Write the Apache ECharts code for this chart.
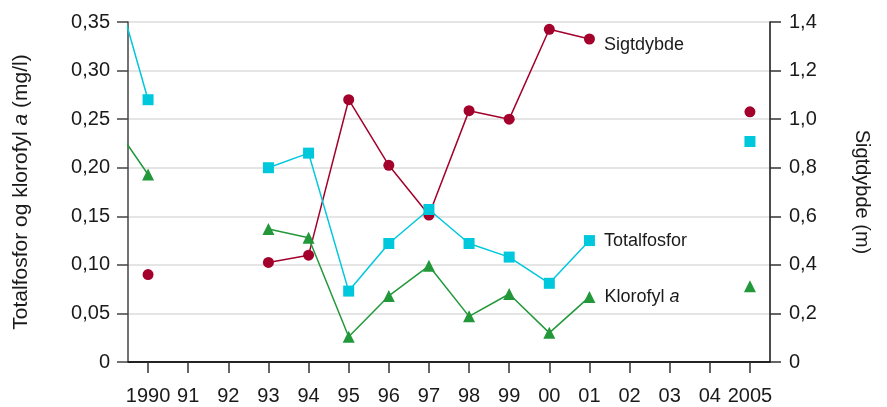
<!DOCTYPE html>
<html>
<head>
<meta charset="utf-8">
<script src="https://cdn.jsdelivr.net/npm/echarts@6/dist/echarts.min.js"></script>
<style>
  html, body { margin: 0; padding: 0; background: #fff; }
  #chartContainer { width: 887px; height: 407px; }
</style>
</head>
<body>
<div id="chartContainer"></div>
<script>
// år (1989 ligger utenfor aksen, men linjen kommer inn fra venstre)
var years = [1989, 1990, 1991, 1992, 1993, 1994, 1995, 1996, 1997, 1998, 1999, 2000, 2001, 2002, 2003, 2004, 2005];
var totalfosfor = [0.415, 0.270, null, null, 0.200, 0.215, 0.073, 0.122, 0.157, 0.122, 0.108, 0.081, 0.125, null, null, null, 0.227];
var klorofyl = [0.253, 0.193, null, null, 0.137, 0.128, 0.026, 0.068, 0.099, 0.047, 0.070, 0.030, 0.067, null, null, null, 0.078];
var sigtdybde = [null, 0.36, null, null, 0.41, 0.44, 1.08, 0.81, 0.605, 1.035, 1.0, 1.37, 1.33, null, null, null, 1.03];

var xTickYears = [1990, 1991, 1992, 1993, 1994, 1995, 1996, 1997, 1998, 1999, 2000, 2001, 2002, 2003, 2004, 2005];
var xTickLabels = ['1990', '91', '92', '93', '94', '95', '96', '97', '98', '99', '00', '01', '02', '03', '04', '2005'];
var leftTickLabels = ['0', '0,05', '0,10', '0,15', '0,20', '0,25', '0,30', '0,35'];
var rightTickLabels = ['0', '0,2', '0,4', '0,6', '0,8', '1,0', '1,2', '1,4'];

var labelYear = 2001;

var FONT = 'Liberation Sans';
var TXT = '#1a1a1a';

function pairs(arr) {
    var out = [];
    for (var i = 0; i < years.length; i++) {
        out.push([years[i], arr[i]]);
    }
    return out;
}

function withLabel(arr, text, offset) {
    var d = pairs(arr);
    for (var i = 0; i < d.length; i++) {
        if (d[i][0] === labelYear) {
            d[i] = {
                value: d[i],
                label: {
                    show: true, position: 'right', distance: 9, offset: offset || [0, 0],
                    formatter: text, color: TXT, fontSize: 18, fontFamily: FONT,
                    rich: {
                        n: { fontSize: 18, fontFamily: FONT, color: TXT },
                        i: { fontSize: 18, fontFamily: FONT, color: TXT, fontStyle: 'italic' }
                    }
                }
            };
        }
    }
    return d;
}

var myChar = echarts.init(document.getElementById('chartContainer'), null, { renderer: 'canvas' });

var options = {
    animation: false,
    backgroundColor: '#fff',
    grid: { left: 128, right: 117, top: 22, bottom: 45, containLabel: false },
    xAxis: [
        {
            type: 'value', min: 1989.5, max: 2005.5, position: 'bottom',
            axisLine: { show: true, lineStyle: { color: '#333', width: 1.5 } },
            axisTick: { show: true, customValues: xTickYears, length: 11, lineStyle: { color: '#333', width: 1.5 } },
            axisLabel: {
                customValues: xTickYears, margin: 24, fontSize: 20, fontFamily: FONT, color: TXT,
                formatter: function (v) {
                    var k = xTickYears.indexOf(Math.round(v));
                    return k >= 0 ? xTickLabels[k] : '';
                }
            },
            splitLine: { show: false }
        },
        {
            type: 'value', min: 1989.5, max: 2005.5, position: 'top',
            axisLine: { show: true, lineStyle: { color: '#111', width: 1.5 } },
            axisTick: { show: false }, axisLabel: { show: false }, splitLine: { show: false }
        }
    ],
    yAxis: [
        {
            type: 'value', min: 0, max: 0.35, interval: 0.05, position: 'left',
            name: '{n|Totalfosfor og klorofyl }{i|a}{n| (mg/l)}',
            nameLocation: 'middle', nameGap: 96, nameRotate: 90,
            nameTextStyle: {
                rich: {
                    n: { fontSize: 21, fontFamily: FONT, color: TXT },
                    i: { fontSize: 21, fontFamily: FONT, color: TXT, fontStyle: 'italic' }
                }
            },
            axisLine: { show: true, lineStyle: { color: '#444', width: 1.5 } },
            axisTick: { show: true, length: 11, lineStyle: { color: '#444', width: 1.5 } },
            axisLabel: {
                margin: 18, fontSize: 20, fontFamily: FONT, color: TXT,
                formatter: function (v) { return leftTickLabels[Math.round(v / 0.05)]; }
            },
            splitLine: { show: true, lineStyle: { color: '#dcdcdc', width: 1.5 } }
        },
        {
            type: 'value', min: 0, max: 1.4, interval: 0.2, position: 'right',
            name: 'Sigtdybde (m)',
            nameLocation: 'middle', nameGap: 82, nameRotate: -90,
            nameTextStyle: { fontSize: 20, fontFamily: FONT, color: TXT },
            axisLine: { show: true, lineStyle: { color: '#111', width: 1.5 } },
            axisTick: { show: true, length: 11, lineStyle: { color: '#333', width: 1.5 } },
            axisLabel: {
                margin: 19, fontSize: 20, fontFamily: FONT, color: TXT,
                formatter: function (v) { return rightTickLabels[Math.round(v / 0.2)]; }
            },
            splitLine: { show: false }
        }
    ],
    series: [
        {
            name: 'Sigtdybde', type: 'line', yAxisIndex: 1, xAxisIndex: 0,
            data: withLabel(sigtdybde, 'Sigtdybde', [0, 6]),
            symbol: 'circle', symbolSize: 11, showSymbol: true, showAllSymbol: true,
            connectNulls: false, clip: true,
            itemStyle: { color: '#a3002c' },
            lineStyle: { color: '#a3002c', width: 1.5 }
        },
        {
            name: 'Klorofyl a', type: 'line', yAxisIndex: 0, xAxisIndex: 0,
            data: withLabel(klorofyl, '{n|Klorofyl }{i|a}'),
            symbol: 'triangle', symbolSize: 12, showSymbol: true, showAllSymbol: true,
            connectNulls: false, clip: true,
            itemStyle: { color: '#22983a' },
            lineStyle: { color: '#22983a', width: 1.5 }
        },
        {
            name: 'Totalfosfor', type: 'line', yAxisIndex: 0, xAxisIndex: 0,
            data: withLabel(totalfosfor, 'Totalfosfor'),
            symbol: 'rect', symbolSize: 11, showSymbol: true, showAllSymbol: true,
            connectNulls: false, clip: true,
            itemStyle: { color: '#00c8dc' },
            lineStyle: { color: '#00c8dc', width: 1.5 }
        }
    ]
};

myChar.setOption(options);
</script>
</body>
</html>
